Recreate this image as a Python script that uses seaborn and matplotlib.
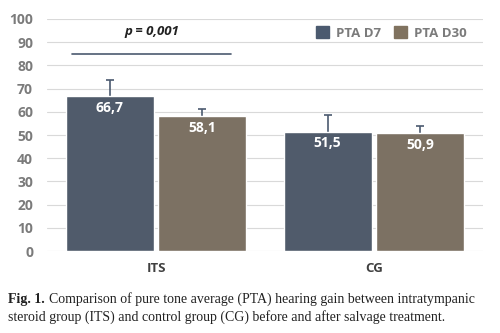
import numpy as np
import pandas as pd
import matplotlib
matplotlib.use("Agg")
import matplotlib.pyplot as plt
import seaborn as sns
from matplotlib.patches import Patch

# data
groups = ["ITS", "CG"]
series = ["PTA D7", "PTA D30"]
d7_values = [66.7, 51.5]
d30_values = [58.1, 50.9]
d7_err = [7.2, 7.2]
d30_err = [3.0, 3.0]
labels_d7 = ["66,7", "51,5"]
labels_d30 = ["58,1", "50,9"]
y_ticks = [0, 10, 20, 30, 40, 50, 60, 70, 80, 90, 100]

df = pd.DataFrame({
    "group": groups * 2,
    "series": [series[0]] * 2 + [series[1]] * 2,
    "value": d7_values + d30_values,
    "err": d7_err + d30_err,
    "label": labels_d7 + labels_d30,
})

sns.set_style("white")
plt.rcParams["font.family"] = ["Open Sans", "DejaVu Sans"]

colors = ["#4b5a6f", "#80725f"]
tick_grey = "#7b7b7b"
serif = ["Liberation Serif", "DejaVu Serif"]

fig = plt.figure(figsize=(5, 3.33), dpi=100)
ax = fig.add_axes([0.094, 0.246, 0.872, 0.697])

sns.barplot(data=df, x="group", y="value", hue="series", palette=colors,
            width=0.85, gap=0.05, errorbar=None, legend=False, ax=ax, zorder=3)

# error bars (upward only) and value labels
for bars, (_, sub) in zip(ax.containers, df.groupby("series", sort=False)):
    for bar, (_, row) in zip(bars, sub.iterrows()):
        xc = bar.get_x() + bar.get_width() / 2
        h = bar.get_height()
        top = h + row["err"]
        ax.vlines(xc, h, top, color="#4b5a6f", lw=1.2, zorder=2)
        ax.hlines(top, xc - 0.018, xc + 0.018, color="#4b5a6f", lw=1.2, zorder=2)
        ax.text(xc, h - 5, row["label"], ha="center", va="center",
                color="white", fontsize=10, fontweight="bold", zorder=4)

# significance line
ax.plot([-0.385, 0.345], [85, 85], color="#4b5a6f", lw=1.2, zorder=3)
ax.text(-0.02, 94.5, "p = 0,001", ha="center", va="center", fontsize=9.5,
        fontweight="bold", fontstyle="italic", color="#222222")

ax.set_ylim(0, 100)
ax.set_xlim(-0.5, 1.5)
ax.set_yticks(y_ticks)
ax.yaxis.grid(True, color="#d9d9d9", lw=0.8, zorder=0)
ax.set_axisbelow(True)
for s in ax.spines.values():
    s.set_visible(False)
ax.set_xlabel("")
ax.set_ylabel("")
ax.tick_params(axis="y", length=0, pad=10, labelsize=10, labelcolor=tick_grey)
ax.tick_params(axis="x", length=0, pad=8, labelsize=9.5, labelcolor="#404040")
for t in ax.get_yticklabels() + ax.get_xticklabels():
    t.set_fontweight("bold")

# legend
handles = [Patch(color=c, label=s) for c, s in zip(colors, series)]
leg = ax.legend(handles=handles, loc="upper right", bbox_to_anchor=(0.99, 1.02),
                ncol=2, frameon=False, fontsize=9.5, handlelength=1.0, handleheight=1.0,
                columnspacing=1.0, handletextpad=0.5)
for t in leg.get_texts():
    t.set_color(tick_grey)
    t.set_fontweight("bold")

# caption
fig.text(0.016, 0.09, "Fig. 1.", fontsize=10, fontweight="bold",
         family=serif, color="#222222")
fig.text(0.098, 0.09,
         "Comparison of pure tone average (PTA) hearing gain between intratympanic",
         fontsize=10, family=serif, color="#222222")
fig.text(0.016, 0.038,
         "steroid group (ITS) and control group (CG) before and after salvage treatment.",
         fontsize=10, family=serif, color="#222222")

fig.savefig("out.png", dpi=100)
